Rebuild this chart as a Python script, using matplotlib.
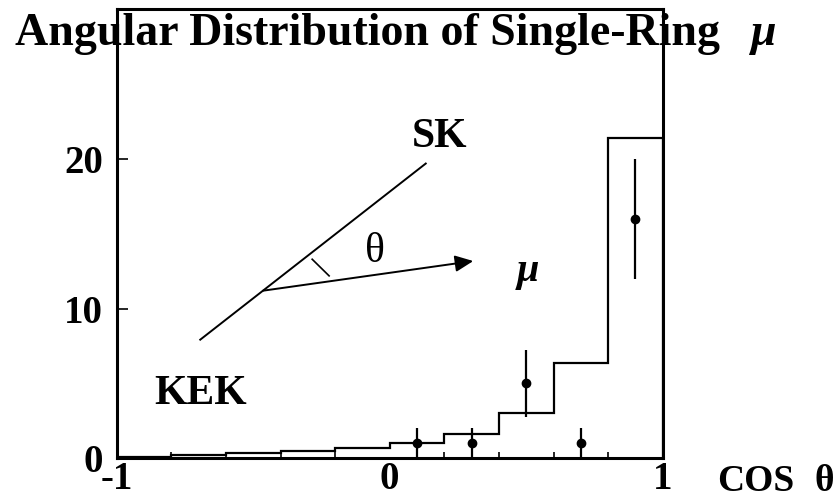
import matplotlib
matplotlib.use('Agg')
import matplotlib.pyplot as plt
import numpy as np

# histogram of expected counts (MC) in cos(theta) bins
bin_edges = [-1.0, -0.8, -0.6, -0.4, -0.2, 0.0, 0.2, 0.4, 0.6, 0.8, 1.0]
mc_counts = [0.1, 0.25, 0.35, 0.5, 0.67, 1.05, 1.65, 3.0, 6.35, 21.4]

# observed events with sqrt(N) errors
data_x = [0.1, 0.3, 0.5, 0.7, 0.9]
data_y = [1, 1, 5, 1, 16]
data_err = [1.0, 1.0, 2.24, 1.0, 4.0]

x_ticks = [-1, 0, 1]
x_tick_labels = ['-1', '0', '1']
y_ticks = [0, 10, 20]
y_tick_labels = ['0', '10', '20']

serif = 'Liberation Serif'

fig = plt.figure(figsize=(8.39, 4.99), dpi=100)
ax = fig.add_axes([0.1391, 0.0816, 0.6508, 0.9004])

ax.stairs(mc_counts, bin_edges, baseline=0, color='black', linewidth=1.6)
ax.errorbar(data_x, data_y, yerr=data_err, fmt='o', color='black',
            markersize=6, elinewidth=1.6, capsize=0)

ax.set_xlim(-1, 1)
ax.set_ylim(0, 30)

for side in ax.spines.values():
    side.set_linewidth(2.2)

ax.set_xticks(x_ticks)
ax.set_xticklabels(x_tick_labels)
ax.set_xticks(np.arange(-0.8, 0.81, 0.2), minor=True)
ax.set_yticks(y_ticks)
ax.set_yticklabels(y_tick_labels)
ax.tick_params(axis='both', which='major', direction='in', length=0, pad=4)
ax.tick_params(axis='y', which='major', length=8, width=1.2)
ax.tick_params(axis='x', which='minor', direction='in', length=4, width=1.2)
for lab in ax.get_xticklabels() + ax.get_yticklabels():
    lab.set_fontfamily(serif)
    lab.set_fontweight('bold')
    lab.set_fontsize(28)
ax.tick_params(axis='y', pad=10)
ax.tick_params(axis='x', pad=2)

# x axis label, written as two pieces
fig.text(717 / 839, 0.016, 'COS', fontsize=27,
         fontfamily=serif, fontweight='bold', ha='left', va='baseline')
fig.text(815 / 839, 0.016, 'θ', fontsize=27,
         fontfamily=serif, fontweight='bold', ha='left', va='baseline')

# geometry sketch: KEK -> SK beam line and muon direction
ax.plot([0.153, 0.566], [0.264, 0.656], transform=ax.transAxes,
        color='black', linewidth=1.4)
ax.annotate('', xy=(0.653, 0.439), xytext=(0.268, 0.373),
            xycoords='axes fraction', textcoords='axes fraction',
            arrowprops=dict(arrowstyle='-|>,head_length=1.1,head_width=0.5',
                            color='black', linewidth=1.4, shrinkA=0, shrinkB=0))
ax.plot([0.358, 0.389], [0.443, 0.406], transform=ax.transAxes,
        color='black', linewidth=1.2)
ax.text(0.473, 0.459, 'θ', transform=ax.transAxes, fontsize=30,
        fontfamily=serif, ha='center', va='center')
ax.text(0.753, 0.415, 'μ', transform=ax.transAxes, fontsize=29,
        fontfamily=serif, fontstyle='italic', fontweight='bold',
        ha='center', va='center')
ax.text(0.592, 0.715, 'SK', transform=ax.transAxes, fontsize=30,
        fontfamily=serif, fontweight='bold', ha='center', va='center')
ax.text(0.153, 0.143, 'KEK', transform=ax.transAxes, fontsize=30,
        fontfamily=serif, fontweight='bold', ha='center', va='center')

fig.text(0.018, 0.910, 'Angular Distribution of Single-Ring', fontsize=33,
         fontfamily=serif, fontweight='bold', ha='left', va='baseline')
fig.text(0.910, 0.910, 'μ', fontsize=33, fontfamily=serif,
         fontstyle='italic', fontweight='bold', ha='center', va='baseline')

fig.savefig('out.png', dpi=100)
plt.close(fig)
